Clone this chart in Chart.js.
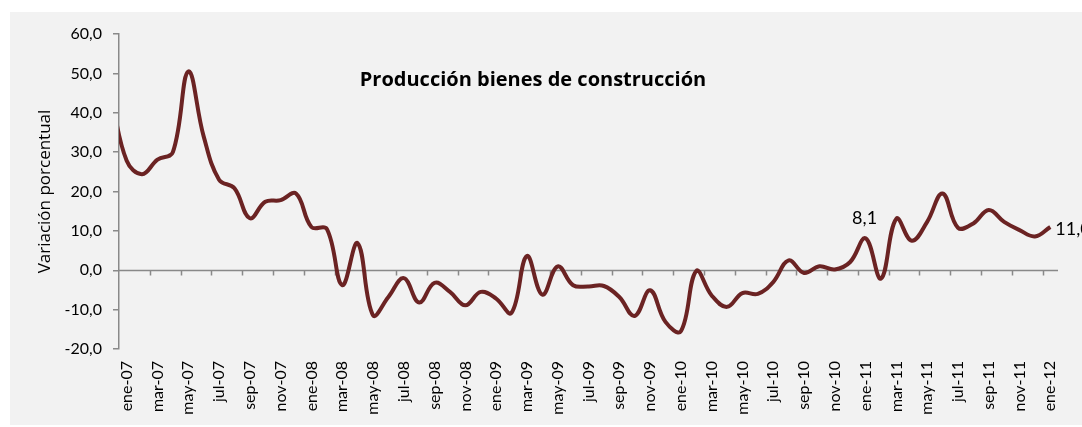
<!DOCTYPE html>
<html lang="es">
<head>
<meta charset="utf-8">
<title>Producción bienes de construcción</title>
<script src="https://cdn.jsdelivr.net/npm/chart.js@4"></script>
<style>
  html, body { margin: 0; padding: 0; background: #fff; }
  canvas { display: block; }
</style>
</head>
<body>
<canvas id="grafico" width="1082" height="427"></canvas>
<script>
/* datos: variación porcentual mensual, ene-07 .. ene-12 */
const meses = ['ene', 'feb', 'mar', 'abr', 'may', 'jun', 'jul', 'ago', 'sep', 'oct', 'nov', 'dic'];
const anios = ['07', '08', '09', '10', '11', '12'];
const categorias = [];
anios.forEach(a => meses.forEach(m => categorias.push(m + '-' + a)));
categorias.length = 61;                       // termina en ene-12

const valores = [
  27.8, 24.4, 28.1, 30.0, 50.5, 34.0, 23.0, 20.8, 13.2, 17.4,
  17.8, 19.5, 11.0, 10.5, -3.8, 6.9, -11.4, -6.8, -2.0, -8.2,
  -3.2, -5.5, -8.9, -5.5, -7.2, -10.8, 3.6, -6.2, 1.0, -3.8,
  -4.1, -4.0, -6.8, -11.6, -5.1, -13.1, -15.5, -0.2, -6.4, -9.3,
  -5.8, -6.0, -3.0, 2.5, -0.7, 1.0, 0.2, 2.1, 8.1, -2.1,
  13.1, 7.5, 12.3, 19.5, 10.8, 11.9, 15.3, 12.3, 10.2, 8.6, 11.0
];
const valorPrevio = 44.0;                      // dic-06, queda recortado a la izquierda
const etiquetados = [48, 60];                  // ene-11 y ene-12
const ticksY = [-20, -10, 0, 10, 20, 30, 40, 50, 60];

const titulo = 'Producción bienes de construcción';
const tituloEjeY = 'Variación porcentual';

/* helpers ---------------------------------------------- */
const coma = v => v.toFixed(1).replace('.', ',');
const GRIS = '#898989';
const FUENTE = 'Lato, "Open Sans", sans-serif';
const FUENTE_TIT = '"Open Sans", Lato, sans-serif';

const puntos = [{ x: -1, y: valorPrevio }].concat(valores.map((v, i) => ({ x: i, y: v })));

/* fondo, eje en cero, títulos y etiquetas ---------------- */
const decorado = {
  id: 'decorado',
  beforeDraw(chart) {
    const ctx = chart.ctx;
    ctx.save();
    ctx.fillStyle = '#fff';
    ctx.fillRect(0, 0, chart.width, chart.height);
    ctx.fillStyle = '#F2F2F2';
    ctx.fillRect(10, 12, chart.width - 10, chart.height - 14);
    ctx.restore();
  },
  beforeDatasetsDraw(chart) {
    const { ctx, chartArea: a, scales: { x, y } } = chart;
    const y0 = Math.round(y.getPixelForValue(0)) + 0.5;
    ctx.save();
    ctx.strokeStyle = GRIS;
    ctx.lineWidth = 1.5;
    ctx.beginPath();
    ctx.moveTo(a.left, y0);
    ctx.lineTo(a.right, y0);
    for (let k = 1.5; k <= 60.5; k += 2) {
      const px = Math.round(x.getPixelForValue(k)) + 0.5;
      ctx.moveTo(px, y0);
      ctx.lineTo(px, y0 + 5);
    }
    ctx.stroke();
    ctx.restore();
  },
  afterDatasetsDraw(chart) {
    const { ctx, scales: { x, y } } = chart;
    ctx.save();
    ctx.fillStyle = '#000';
    ctx.font = 'bold 20px ' + FUENTE_TIT;
    ctx.textAlign = 'center';
    ctx.textBaseline = 'middle';
    ctx.fillText(titulo, 533, 80);

    ctx.font = '17px ' + FUENTE_TIT;
    ctx.translate(45, (y.top + y.bottom) / 2);
    ctx.rotate(-Math.PI / 2);
    ctx.fillText(tituloEjeY, 0, 0);
    ctx.restore();

    ctx.save();
    ctx.fillStyle = '#000';
    ctx.font = '18px ' + FUENTE;
    etiquetados.forEach(i => {
      const px = x.getPixelForValue(i);
      const py = y.getPixelForValue(valores[i]);
      if (i === valores.length - 1) {
        ctx.textAlign = 'left';
        ctx.textBaseline = 'middle';
        ctx.fillText(coma(valores[i]), px + 5, py + 2);
      } else {
        ctx.textAlign = 'center';
        ctx.textBaseline = 'bottom';
        ctx.fillText(coma(valores[i]), px - 1, py - 11);
      }
    });
    ctx.restore();
  }
};

new Chart(document.getElementById('grafico'), {
  type: 'line',
  data: {
    datasets: [{
      data: puntos,
      borderColor: '#6B2323',
      borderWidth: 4,
      tension: 0.4,
      pointRadius: 0,
      fill: false,
      clip: 0
    }]
  },
  options: {
    responsive: false,
    animation: false,
    devicePixelRatio: 1,
    layout: { padding: { left: 0, top: 34, right: 24, bottom: 0 } },
    plugins: { legend: { display: false }, tooltip: { enabled: false } },
    scales: {
      x: {
        type: 'linear',
        min: -0.5,
        max: 60.5,
        afterBuildTicks: s => { s.ticks = categorias.map((c, i) => ({ value: i })).filter(t => t.value % 2 === 0); },
        afterFit: s => { s.height = 78; },
        grid: { display: false, drawTicks: false },
        border: { display: false },
        ticks: {
          autoSkip: false,
          minRotation: 90,
          maxRotation: 90,
          padding: 12,
          color: '#000',
          font: { family: FUENTE, size: 16 },
          callback: v => categorias[v]
        }
      },
      y: {
        min: -20,
        max: 60,
        afterBuildTicks: s => { s.ticks = ticksY.map(v => ({ value: v })); },
        afterFit: s => { s.width = 119; },
        grid: { drawOnChartArea: false, drawTicks: true, tickLength: 6, color: GRIS, lineWidth: 1.5 },
        border: { display: true, color: GRIS, width: 1.5 },
        ticks: {
          padding: 11,
          color: '#000',
          font: { family: FUENTE, size: 16 },
          callback: v => coma(v)
        }
      }
    }
  },
  plugins: [decorado]
});
</script>
</body>
</html>
